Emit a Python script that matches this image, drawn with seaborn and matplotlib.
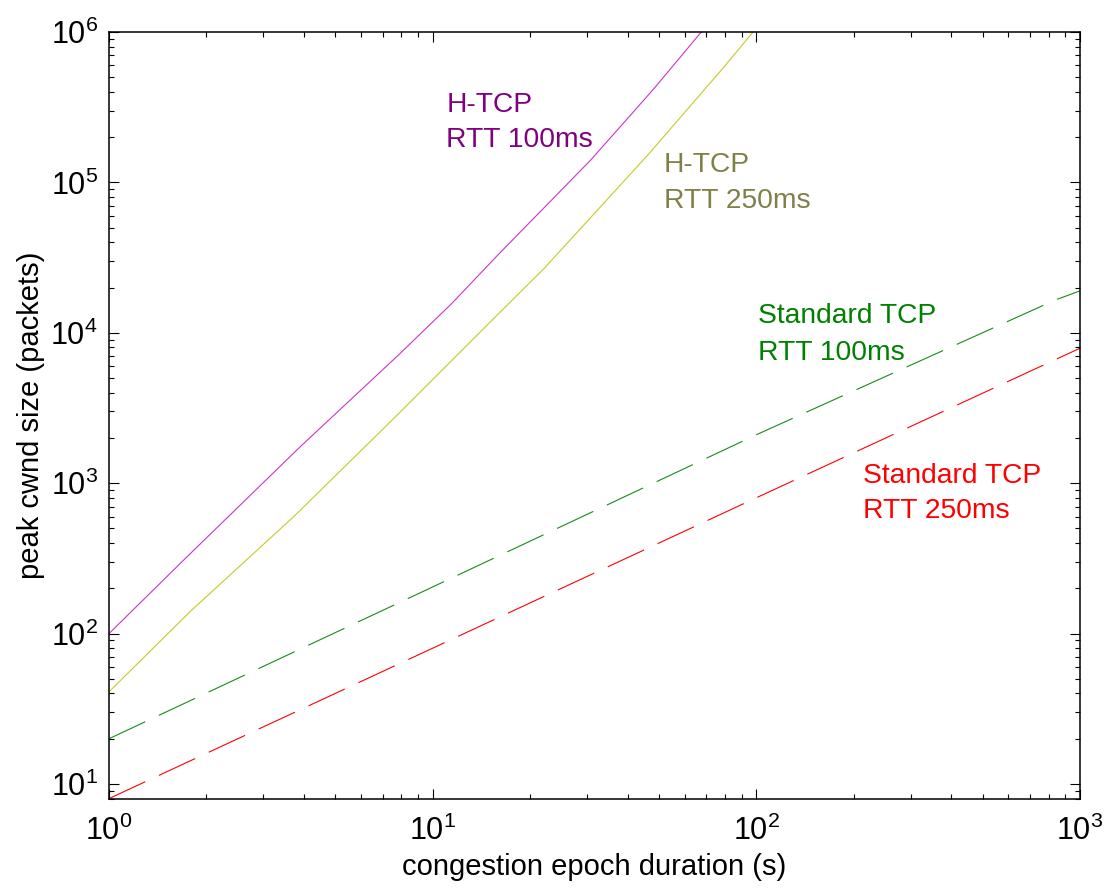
import numpy as np
import pandas as pd
import matplotlib
matplotlib.use("Agg")
import matplotlib.pyplot as plt
import seaborn as sns

# ---- data ----
htcp100_x = [1, 1.70, 3.90, 7.96, 8.75, 11.4, 15.9, 30.8, 48.4, 67.6]
htcp100_y = [100, 308, 1750, 7340, 8950, 15500, 32900, 141000, 423000, 1000000]

htcp250_x = [1, 1.78, 3.72, 7.59, 7.96, 16.2, 22.1, 46.2, 78, 97.7]
htcp250_y = [41, 140, 599, 2700, 2990, 13800, 26800, 152000, 559000, 1000000]

std100_x = [1, 11.1, 100, 837, 1000]
std100_y = [20, 227, 2100, 16500, 19000]

std250_x = [1, 10, 100, 1000]
std250_y = [8, 80, 800, 7900]

label_htcp100 = ["H-TCP", "RTT 100ms"]
label_htcp250 = ["H-TCP", "RTT 250ms"]
label_std100 = ["Standard TCP", "RTT 100ms"]
label_std250 = ["Standard TCP", "RTT 250ms"]

sns.set_style("ticks")
plt.rcParams["font.family"] = ["Liberation Sans", "DejaVu Sans"]
plt.rcParams["mathtext.fontset"] = "custom"
plt.rcParams["mathtext.rm"] = "Liberation Sans"
plt.rcParams["mathtext.it"] = "Liberation Sans"
plt.rcParams["mathtext.default"] = "regular"
plt.rcParams["text.color"] = "black"
plt.rcParams["axes.labelcolor"] = "black"

fig = plt.figure(figsize=(11.06, 8.90), dpi=100)
ax = fig.add_axes([109/1106, 1-799/890, (1080-109)/1106, (799-32)/890])

lw = 0.8
sns.lineplot(x=htcp100_x, y=htcp100_y, color="#cc33cc", lw=lw, ax=ax, sort=False)
sns.lineplot(x=htcp250_x, y=htcp250_y, color="#c8c828", lw=lw, ax=ax, sort=False)
sns.lineplot(x=std100_x, y=std100_y, color="#1a8a1a", lw=lw, ax=ax, sort=False)
ax.lines[-1].set_dashes([36, 13.5])
sns.lineplot(x=std250_x, y=std250_y, color="#ff0000", lw=lw, ax=ax, sort=False)
ax.lines[-1].set_dashes([36, 13.5])

ax.set_xscale("log")
ax.set_yscale("log")
ax.set_xlim(1, 1000)
ax.set_ylim(7.95, 1e6)

ax.tick_params(which="both", direction="in", top=True, right=True, colors="black",
               labelcolor="black")
ax.tick_params(which="major", length=7, width=0.8, labelsize=22)
ax.tick_params(axis="x", which="major", pad=12)
ax.tick_params(axis="y", which="major", pad=8)
ax.tick_params(which="minor", length=3.5, width=0.8)
for s in ax.spines.values():
    s.set_linewidth(1.1)
    s.set_color("black")

ax.set_xlabel("congestion epoch duration (s)", fontsize=21, labelpad=4)
ax.set_ylabel("peak cwnd size (packets)", fontsize=21, labelpad=4)

fs = 20.3
def put(x, y1, y2, lines, color):
    ax.text(x, y1, lines[0], color=color, fontsize=fs, va="baseline", ha="left")
    ax.text(x, y2, lines[1], color=color, fontsize=fs, va="baseline", ha="left")

put(11.03, 2.94e5, 1.72e5, label_htcp100, "#800080")
put(51.7, 1.17e5, 6.76e4, label_htcp250, "#808048")
put(101, 1.16e4, 6590, label_std100, "#008000")
put(213, 1000, 587, label_std250, "#ff0000")

fig.savefig("out.png", dpi=100)
